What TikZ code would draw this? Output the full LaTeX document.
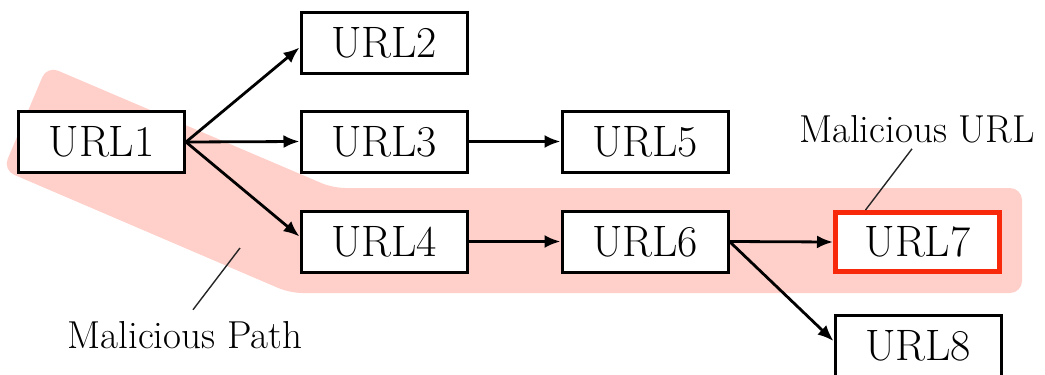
\documentclass[tikz,border=0pt]{standalone}
\usetikzlibrary{arrows.meta}
\definecolor{bandpink}{RGB}{255,208,202}
\definecolor{malred}{RGB}{248,40,10}
\begin{document}
\begin{tikzpicture}[x=1pt,y=-1pt,
  urlbox/.style={draw=black,line width=3pt,fill=white,minimum width=166pt,minimum height=61pt,inner sep=0pt,font=\fontsize{44}{50}\selectfont},
  malbox/.style={urlbox,draw=malred,line width=5pt,minimum width=164pt,minimum height=59pt},
  link/.style={line width=2.8pt,-{Latex[length=16pt,width=13pt]}},
  tag/.style={inner sep=2pt,font=\fontsize{39}{44}\selectfont},
  pointer/.style={line width=1.4pt,draw=black!85}]
\clip (0,0) rectangle (1045,375);
% malicious path band
\fill[bandpink,rounded corners=12pt] (3,170) -- (47,66) -- (333,188) -- (1022,188) -- (1022,293) -- (290,293) -- cycle;
% nodes
\node[urlbox] (u1) at (101.5,142) {URL1};
\node[urlbox] (u2) at (384,42.5) {URL2};
\node[urlbox] (u3) at (384,141.5) {URL3};
\node[urlbox] (u4) at (384,241.5) {URL4};
\node[urlbox] (u5) at (645,141.5) {URL5};
\node[urlbox] (u6) at (645,241.5) {URL6};
\node[malbox] (u7) at (917.5,242) {URL7};
\node[urlbox] (u8) at (918,346) {URL8};
% links
\draw[link] (u1.east) -- ([yshift=-5pt]u2.west);
\draw[link] (u1.east) -- (u3.west);
\draw[link] (u1.east) -- ([yshift=5pt]u4.west);
\draw[link] (u3.east) -- (u5.west);
\draw[link] (u4.east) -- (u6.west);
\draw[link] (u6.east) -- (u7.west);
\draw[link] (u6.east) -- ([yshift=5pt]u8.west);
% labels
\node[tag,anchor=base] (mp) at (185,348) {Malicious Path};
\node[tag,anchor=base] (mu) at (917,142) {Malicious URL};
\coordinate (pathtip) at (240,248);
\draw[pointer] ([xshift=8pt,yshift=9pt]mp.north) -- (pathtip);
\draw[pointer] ([xshift=-5pt,yshift=-4pt]mu.south) -- ([xshift=-52pt]u7.north);
\end{tikzpicture}
\end{document}
